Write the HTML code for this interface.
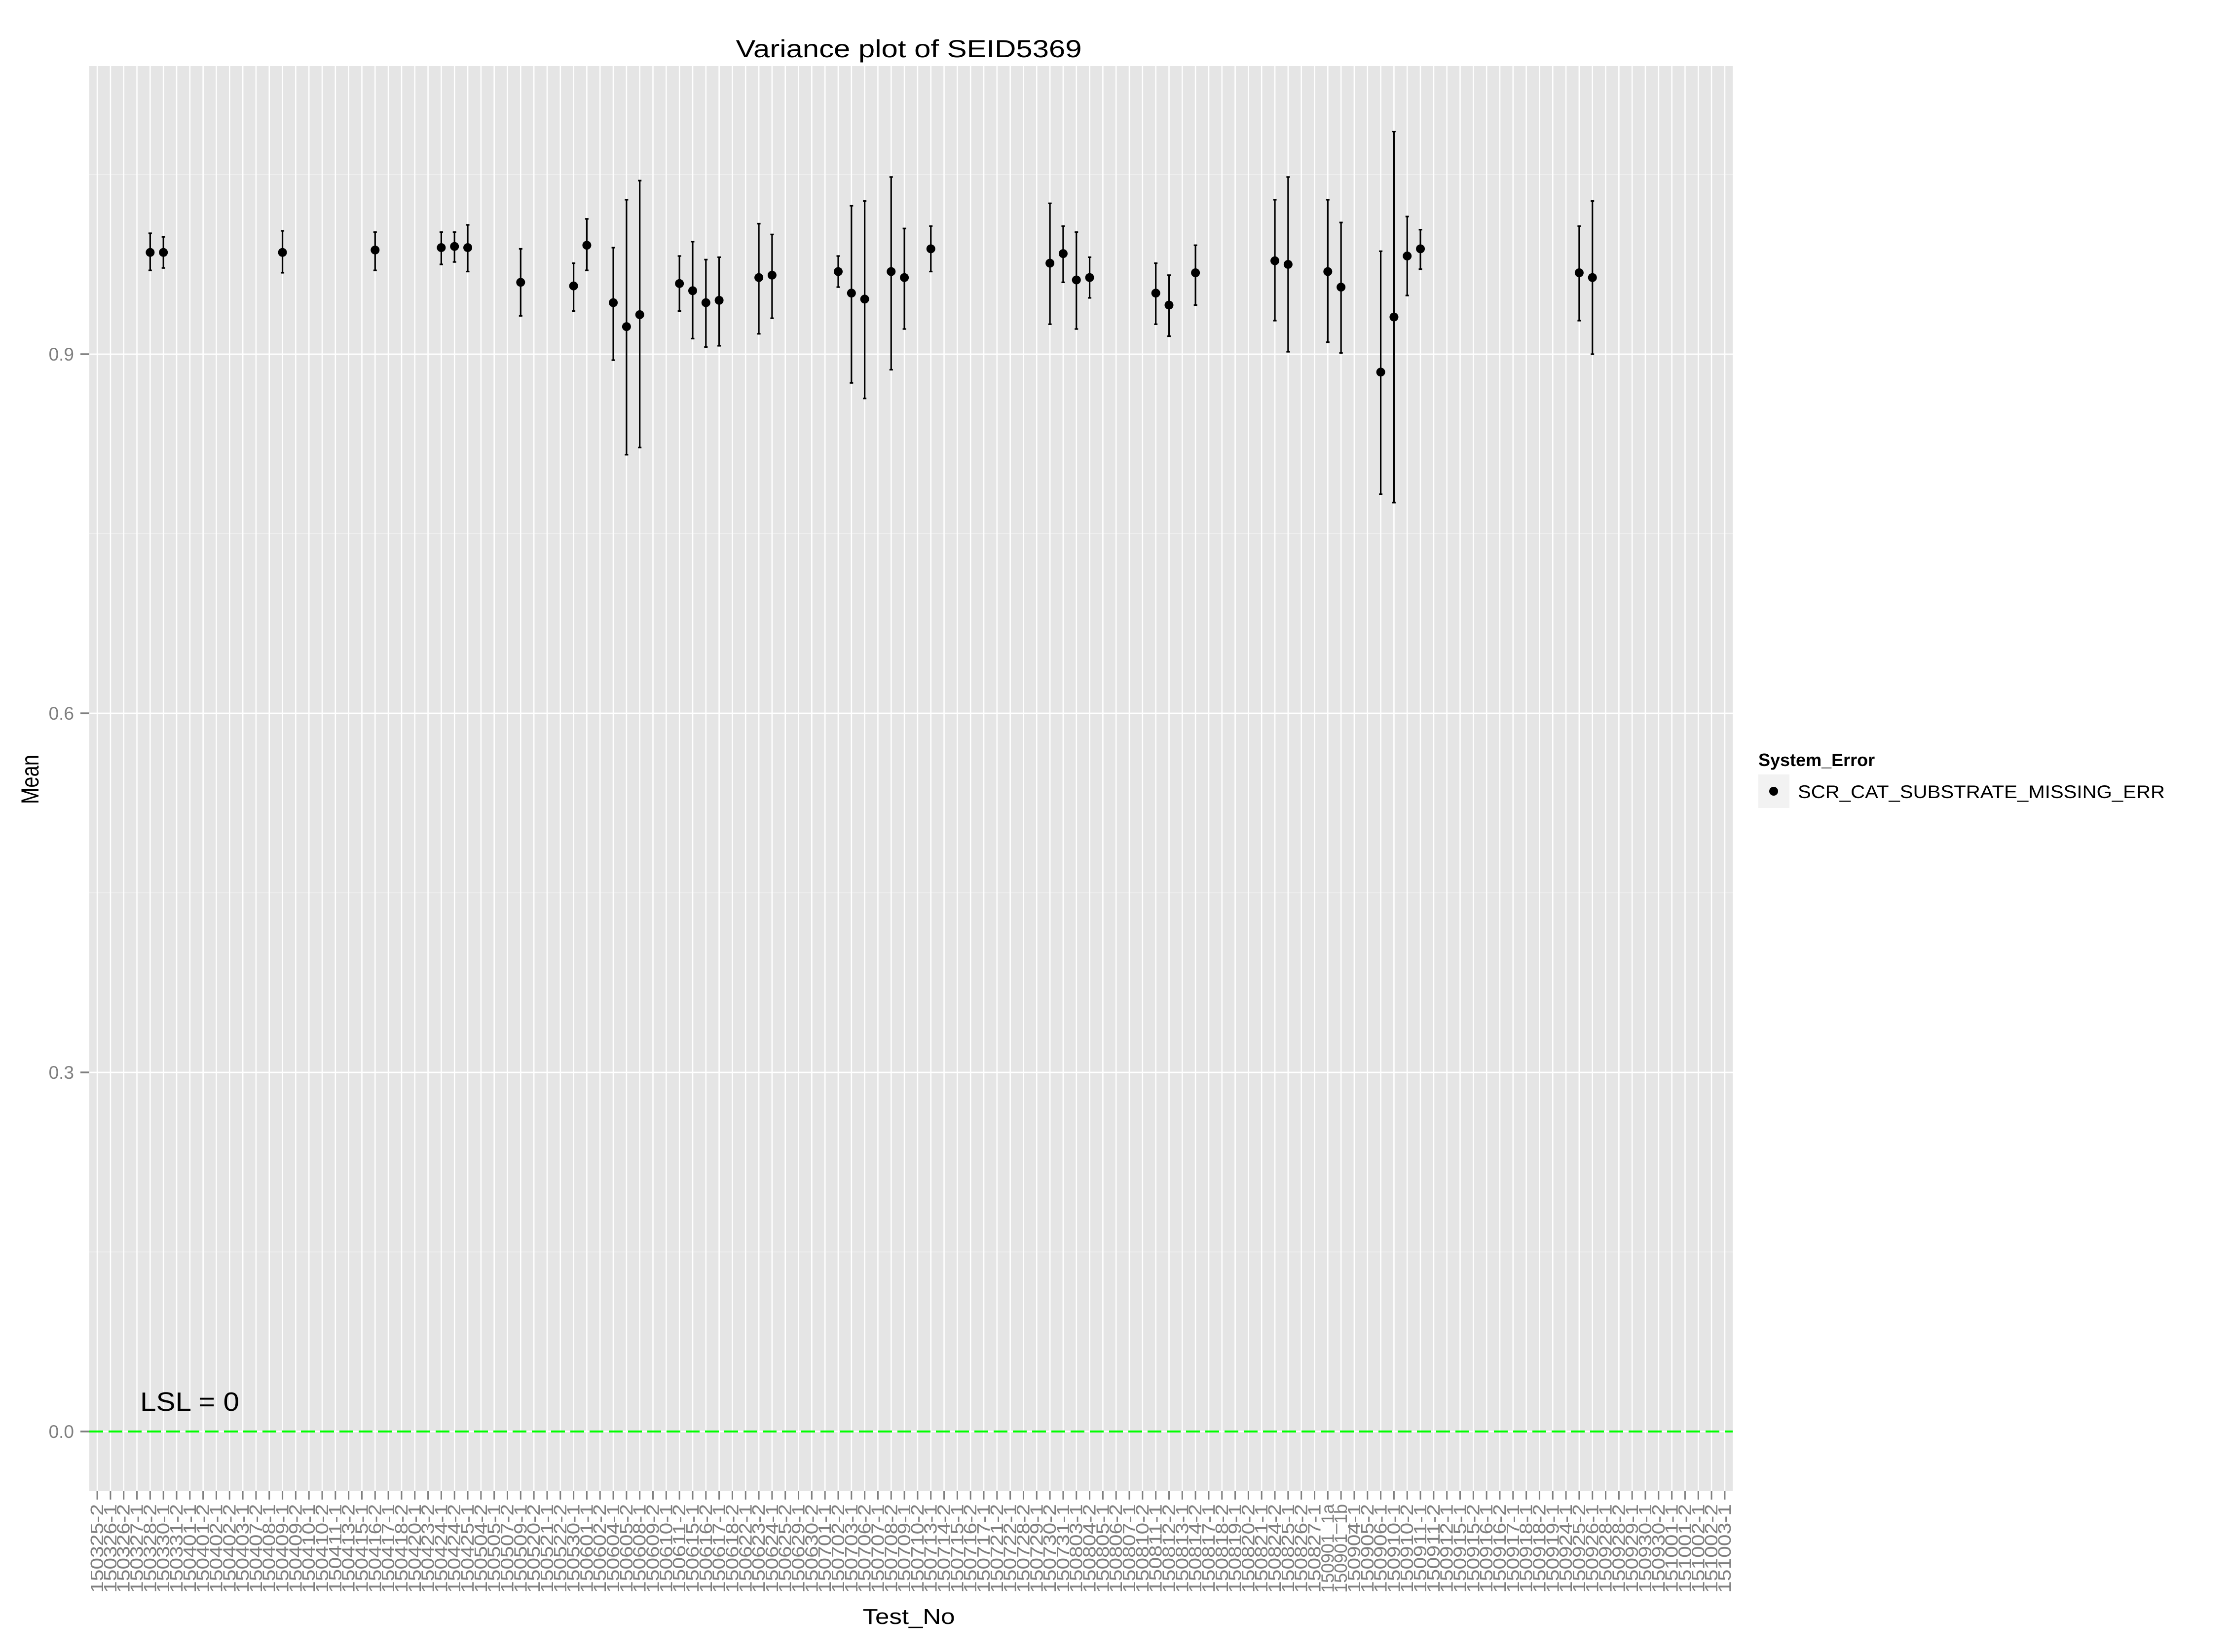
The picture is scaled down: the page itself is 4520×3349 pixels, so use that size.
<!DOCTYPE html>
<html><head><meta charset="utf-8"><style>html,body{margin:0;padding:0;background:#fff}svg{display:block}</style></head>
<body>
<svg id="chart" xmlns="http://www.w3.org/2000/svg" width="4520" height="3349" viewBox="0 0 4520 3349" font-family="Liberation Sans, Arial, sans-serif">
<rect width="4520" height="3349" fill="#fff"/>
<g id="panel"></g>
<text x="1842" y="116" font-size="50" text-anchor="middle" textLength="701" lengthAdjust="spacingAndGlyphs" fill="#000">Variance plot of SEID5369</text>
<text x="1842" y="3292" font-size="44" text-anchor="middle" textLength="187" lengthAdjust="spacingAndGlyphs" fill="#000">Test_No</text>
<text transform="translate(78,1580) rotate(-90)" font-size="50" text-anchor="middle" textLength="100" lengthAdjust="spacingAndGlyphs" fill="#000">Mean</text>
<g>
<text x="3564" y="1553" font-size="36" font-weight="bold" fill="#000">System_Error</text>
<rect x="3564" y="1570" width="63" height="68" fill="#f2f2f2"/>
<circle cx="3595" cy="1604" r="9" fill="#000"/>
<text x="3644" y="1618" font-size="37" textLength="744" lengthAdjust="spacingAndGlyphs" fill="#000">SCR_CAT_SUBSTRATE_MISSING_ERR</text>
</g>
</svg>
<script>
const categories = ["150325-2","150326-1","150326-2","150327-1","150328-2","150330-1","150331-2","150401-1","150401-2","150402-1",
"150402-2","150403-1","150407-2","150408-1","150409-1","150409-2","150410-1","150410-2","150411-1","150413-2",
"150415-1","150416-2","150417-1","150418-2","150420-1","150423-2","150424-1","150424-2","150425-1","150504-2",
"150505-1","150507-2","150509-1","150520-2","150521-1","150522-2","150530-1","150601-1","150602-2","150604-1",
"150605-2","150608-1","150609-2","150610-1","150611-2","150615-1","150616-2","150617-1","150618-2","150622-1",
"150623-2","150624-1","150625-2","150629-1","150630-2","150701-1","150702-2","150703-1","150706-2","150707-1",
"150708-2","150709-1","150710-2","150713-1","150714-2","150715-1","150716-2","150717-1","150721-2","150722-1",
"150728-2","150729-1","150730-2","150731-1","150803-1","150804-2","150805-1","150806-2","150807-1","150810-2",
"150811-1","150812-2","150813-1","150814-2","150817-1","150818-2","150819-1","150820-2","150821-1","150824-2",
"150825-1","150826-2","150827-1","150901_1a","150901_1b","150904-1","150905-2","150906-1","150910-1","150910-2",
"150911-1","150911-2","150912-1","150915-1","150915-2","150916-1","150916-2","150917-1","150918-1","150918-2",
"150919-1","150924-1","150925-2","150926-1","150928-1","150928-2","150929-1","150930-1","150930-2","151001-1",
"151001-2","151002-1","151002-2","151003-1"];
const pointCats = [4,5,14,21,26,27,28,32,36,37,39,40,41,44,45,46,47,50,51,56,57,58,60,61,63,72,73,74,75,80,81,83,89,90,93,94,97,98,99,100,112,113];
const means = [.985,.985,.985,.987,.989,.990,.989,.960,.957,.991,.943,.923,.933,.959,.953,.943,.945,.964,.966,.969,.951,.946,.969,.964,.988,.976,.984,.962,.964,.951,.941,.968,.978,.975,.969,.956,.885,.931,.982,.988,.968,.964];
const uppers = [1.001,.998,1.003,1.002,1.002,1.002,1.008,.988,.976,1.013,.989,1.029,1.045,.982,.994,.979,.981,1.009,1.000,.982,1.024,1.028,1.048,1.005,1.007,1.026,1.007,1.002,.981,.976,.966,.991,1.029,1.048,1.029,1.010,.986,1.086,1.015,1.004,1.007,1.028];
const lowers = [.970,.972,.968,.970,.975,.977,.969,.932,.936,.970,.895,.816,.822,.936,.913,.906,.907,.917,.930,.956,.876,.863,.887,.921,.969,.925,.960,.921,.947,.925,.915,.941,.928,.902,.910,.901,.783,.776,.949,.971,.928,.900];
const yTicks = [0, 0.3, 0.6, 0.9];
const yTickLabels = ["0.0","0.3","0.6","0.9"];
const yMinor = [0.15, 0.45, 0.75, 1.05];
const lslValue = 0;

const NS = "http://www.w3.org/2000/svg";
const L = 181, R = 3512, T = 134, B = 3023;
const step = (R - L) / (categories.length + 0.2);
const xPos = i => L + 0.6 * step + i * step;
const yPos = v => 2902 - v * 2426.7;
const panel = document.getElementById('panel');
const svg = document.getElementById('chart');
function mk(tag, attrs, parent) {
  const e = document.createElementNS(NS, tag);
  for (const k in attrs) e.setAttribute(k, attrs[k]);
  (parent || panel).appendChild(e);
  return e;
}
let e = mk('rect', {x: L, y: T, width: R - L, height: B - T, fill: '#e5e5e5'});


yMinor.forEach(v => {
  const g = mk('line', {x1: L, x2: R, y1: yPos(v), y2: yPos(v), stroke: '#f2f2f2', 'stroke-width': 1.4});
  
  
});
yTicks.forEach((v, k) => {
  const g = mk('line', {x1: L, x2: R, y1: yPos(v), y2: yPos(v), stroke: '#fff', 'stroke-width': 2.8});
  
  
  const t = mk('line', {x1: 163, x2: L, y1: yPos(v), y2: yPos(v), stroke: '#7f7f7f', 'stroke-width': 3.5}, svg);
  
  
  const lb = mk('text', {x: 150, y: yPos(v) + 13, 'font-size': 37, 'text-anchor': 'end', fill: '#7f7f7f'}, svg);
  lb.textContent = yTickLabels[k];
  
  
});
categories.forEach((c, i) => {
  const x = xPos(i);
  const g = mk('line', {x1: x, x2: x, y1: T, y2: B, stroke: '#fff', 'stroke-width': 2.6});
  
  
  const t = mk('line', {x1: x, x2: x, y1: B, y2: B + 17, stroke: '#7f7f7f', 'stroke-width': 3}, svg);
  
  
  const lb = mk('text', {transform: `translate(${x + 12},${B + 26}) rotate(-90)`, 'font-size': 36, 'text-anchor': 'end', fill: '#7f7f7f', textLength: 180, lengthAdjust: 'spacingAndGlyphs'}, svg);
  lb.textContent = c;
  
  
});
e = mk('line', {x1: L, x2: R, y1: yPos(lslValue), y2: yPos(lslValue), stroke: '#00ff00', 'stroke-width': 4, 'stroke-dasharray': '28 11'});


e = mk('text', {x: 284, y: yPos(lslValue) - 42, 'font-size': 54, fill: '#000', textLength: 201, lengthAdjust: 'spacingAndGlyphs'});
e.textContent = 'LSL = 0';


pointCats.forEach((ci, k) => {
  const x = xPos(ci);
  const bar = mk('g', {});
  
  
  mk('line', {x1: x, x2: x, y1: yPos(uppers[k]), y2: yPos(lowers[k]), stroke: '#000', 'stroke-width': 3.2}, bar);
  mk('line', {x1: x - 3.5, x2: x + 3.5, y1: yPos(uppers[k]), y2: yPos(uppers[k]), stroke: '#000', 'stroke-width': 3.2}, bar);
  mk('line', {x1: x - 3.5, x2: x + 3.5, y1: yPos(lowers[k]), y2: yPos(lowers[k]), stroke: '#000', 'stroke-width': 3.2}, bar);
  const p = mk('circle', {cx: x, cy: yPos(means[k]), r: 9, fill: '#000'});
  
  
});
</script>
</body></html>
